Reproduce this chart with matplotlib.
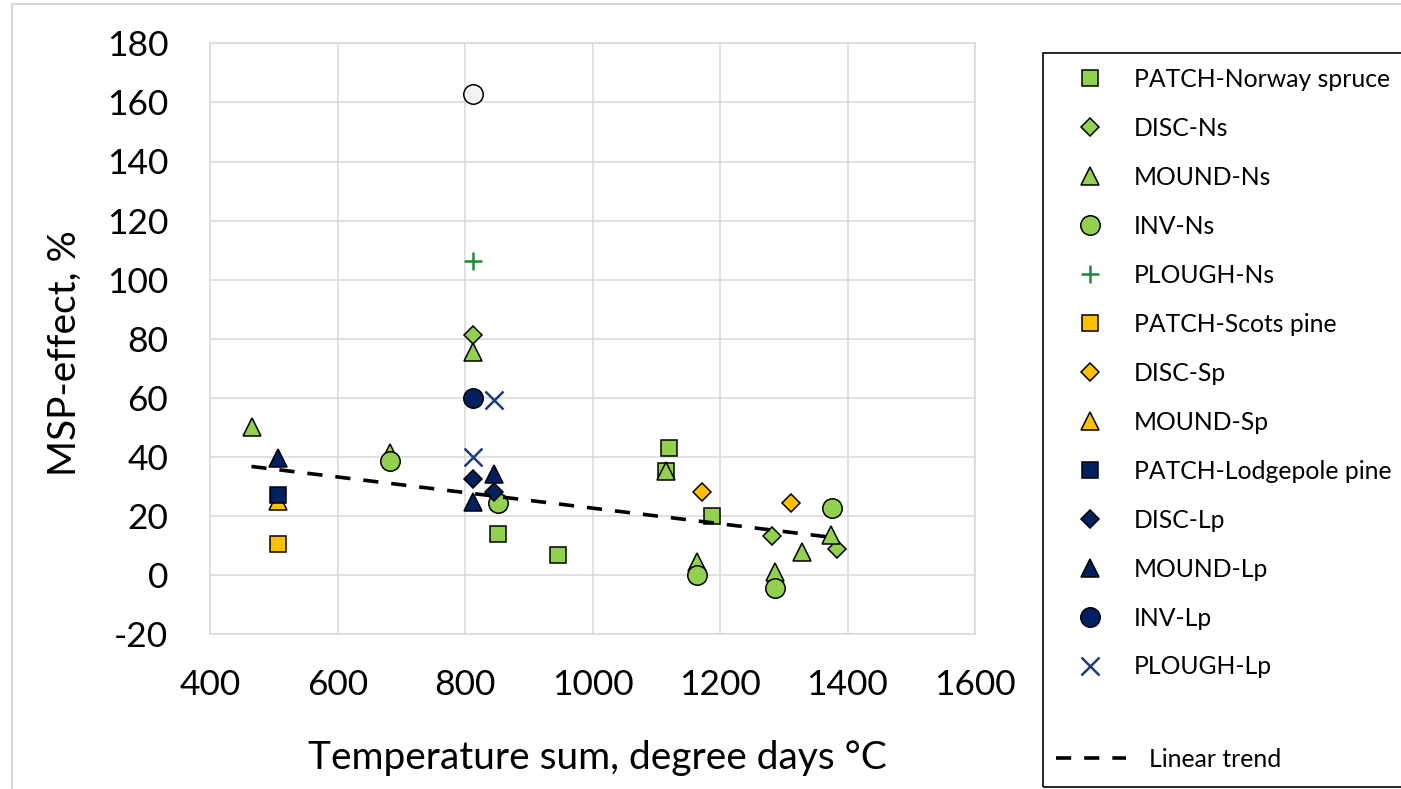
import matplotlib
matplotlib.use('Agg')
import matplotlib.pyplot as plt
from matplotlib.patches import Rectangle

plt.rcParams['font.family'] = ['Lato', 'DejaVu Sans']
plt.rcParams['axes.unicode_minus'] = False

# data (temperature sum, MSP-effect %)
patch_ns_x = [1120, 1115, 1188, 852, 946]
patch_ns_y = [42.9, 35.3, 20.0, 13.9, 6.8]
disc_ns_x = [813, 1281, 1383]
disc_ns_y = [81.2, 13.3, 8.8]
mound_ns_x = [466, 682, 813, 1115, 1164, 1286, 1329, 1374]
mound_ns_y = [50.0, 41.3, 75.4, 35.4, 4.4, 1.0, 7.8, 13.6]
inv_ns_x = [682, 852, 1164, 1286, 1375]
inv_ns_y = [38.7, 24.3, 0.0, -4.2, 22.6]
plough_ns_x = [813]
plough_ns_y = [106.4]
patch_sp_x = [506]
patch_sp_y = [10.4]
disc_sp_x = [1171, 1311]
disc_sp_y = [28.3, 24.4]
mound_sp_x = [506]
mound_sp_y = [25.0]
patch_lp_x = [506]
patch_lp_y = [27.0]
disc_lp_x = [813, 846]
disc_lp_y = [32.7, 28.2]
mound_lp_x = [506, 846, 813]
mound_lp_y = [39.7, 34.2, 24.9]
inv_lp_x = [813]
inv_lp_y = [60.0]
plough_lp_x = [813, 846]
plough_lp_y = [40.0, 59.3]
outlier_x = [813]
outlier_y = [162.8]
trend_x = [465, 1383]
trend_y = [36.8, 12.6]

GREEN = '#92d050'
YELLOW = '#ffc000'
NAVY = '#002060'

series = [
    ('PATCH-Norway spruce', patch_ns_x, patch_ns_y, 's', 12, GREEN),
    ('DISC-Ns', disc_ns_x, disc_ns_y, 'D', 9.2, GREEN),
    ('MOUND-Ns', mound_ns_x, mound_ns_y, '^', 13.5, GREEN),
    ('INV-Ns', inv_ns_x, inv_ns_y, 'o', 14, GREEN),
    ('PLOUGH-Ns', plough_ns_x, plough_ns_y, '+', 13, '#1f8a3c'),
    ('PATCH-Scots pine', patch_sp_x, patch_sp_y, 's', 12, YELLOW),
    ('DISC-Sp', disc_sp_x, disc_sp_y, 'D', 9.2, YELLOW),
    ('MOUND-Sp', mound_sp_x, mound_sp_y, '^', 13.5, YELLOW),
    ('PATCH-Lodgepole pine', patch_lp_x, patch_lp_y, 's', 12, NAVY),
    ('DISC-Lp', disc_lp_x, disc_lp_y, 'D', 9.2, NAVY),
    ('MOUND-Lp', mound_lp_x, mound_lp_y, '^', 13.5, NAVY),
    ('INV-Lp', inv_lp_x, inv_lp_y, 'o', 14, NAVY),
    ('PLOUGH-Lp', plough_lp_x, plough_lp_y, 'x', 13, '#1f3c78'),
]

fig = plt.figure(figsize=(14.01, 7.89), dpi=100)
ax = fig.add_axes([210 / 1401, 1 - 634.3 / 789, 765 / 1401, 591 / 789])

handles = []
for i, (name, xs, ys, mk, ms, col) in enumerate(series):
    if mk in ('+', 'x'):
        h, = ax.plot(xs, ys, linestyle='none', marker=mk, markersize=ms,
                     color=col, markeredgewidth=1.8, zorder=3 + i * 0.01)
    else:
        h, = ax.plot(xs, ys, linestyle='none', marker=mk, markersize=ms,
                     markerfacecolor=col, markeredgecolor='black',
                     markeredgewidth=1.1, zorder=3 + i * 0.01)
    handles.append(h)

ax.plot(outlier_x, outlier_y, linestyle='none', marker='o', markersize=14,
        markerfacecolor='#eef5ec', markeredgecolor='black', markeredgewidth=1.1, zorder=3)

trend, = ax.plot(trend_x, trend_y, color='black', linewidth=2.6,
                 dashes=(4.2, 3.6), zorder=5)

ax.set_xlim(400, 1600)
ax.set_ylim(-20, 180)
ax.set_xticks(range(400, 1601, 200))
ax.set_yticks(range(-20, 181, 20))
ax.grid(True, color='#d9d9d9', linewidth=1.1)
ax.set_axisbelow(True)
for s in ax.spines.values():
    s.set_color('#d9d9d9')
    s.set_linewidth(1.1)
ax.tick_params(axis='both', length=0, labelsize=25.5)
ax.tick_params(axis='y', pad=30)
ax.tick_params(axis='x', pad=25)

ax.set_xlabel('Temperature sum, degree days °C', fontsize=28, va='center')
ax.xaxis.set_label_coords(0.506, -(758 - 634.3) / 591)
ax.set_ylabel('MSP-effect, %', fontsize=28, va='center')
ax.yaxis.set_label_coords(-(210 - 65) / 765, (634.3 - 353) / 591)

# outer chart border and legend frame
fig.add_artist(Rectangle((12 / 1401, -0.1), 1.2, 1.1 - 4 / 789, transform=fig.transFigure,
                         fill=False, edgecolor='#d9d9d9', linewidth=1.5))
fig.add_artist(Rectangle((1043 / 1401, 2 / 789), 0.4, (787 - 53) / 789, transform=fig.transFigure,
                         fill=False, edgecolor='black', linewidth=1.2))

fig.legend(handles, [s[0] for s in series], loc='upper left',
           bbox_to_anchor=(1067 / 1401, 1 - 68 / 789), frameon=False,
           fontsize=17.8, handlelength=1.9, handletextpad=0.8,
           labelspacing=1.05, borderpad=0, borderaxespad=0)
fig.legend([trend], ['Linear trend'], loc='upper left',
           bbox_to_anchor=(1056 / 1401, 1 - 748 / 789), frameon=False,
           fontsize=17.8, handlelength=2.85, handletextpad=0.92,
           borderpad=0, borderaxespad=0)

fig.savefig('out.png', dpi=100)
